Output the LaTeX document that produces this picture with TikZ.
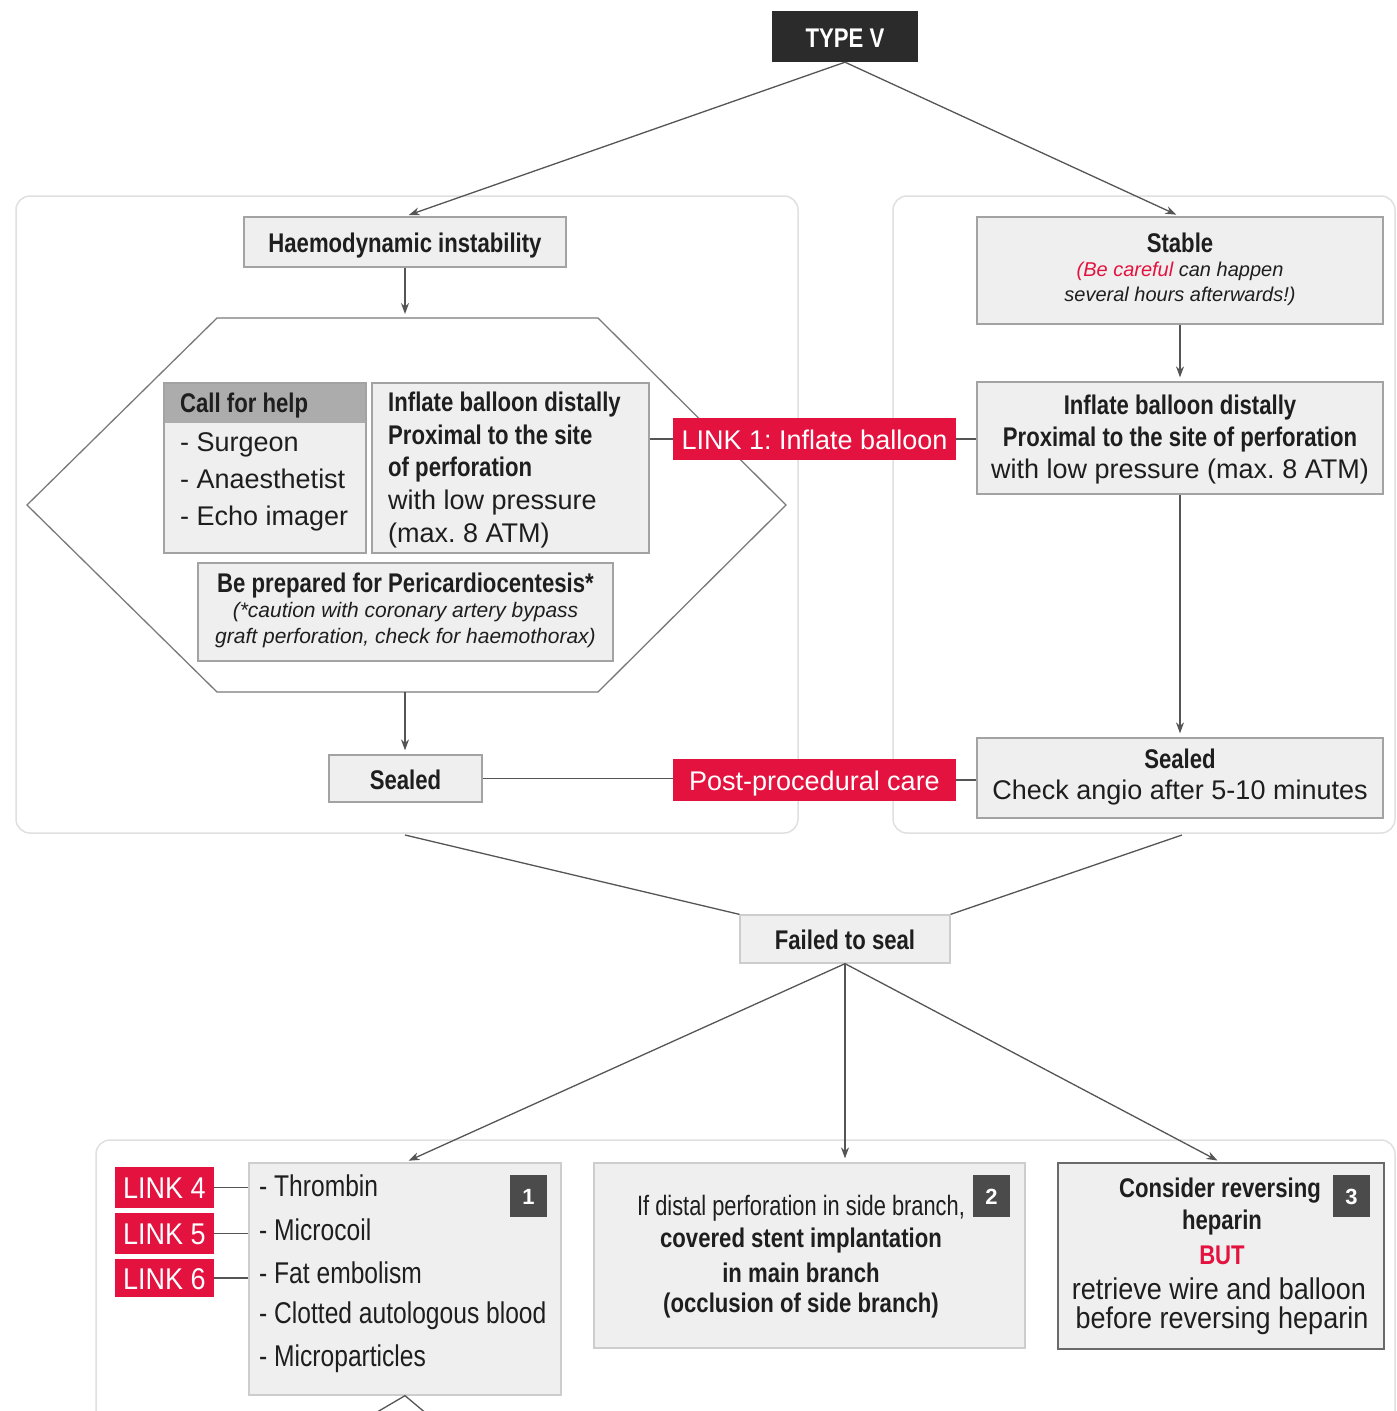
\documentclass[tikz,border=0pt]{standalone}
\usepackage{fontspec}
\setmainfont{Liberation Sans}
\newfontfamily\fB[FakeStretch=0.82]{Liberation Sans}
\newfontfamily\fC[FakeStretch=0.9]{Liberation Sans}
\newfontfamily\fD[FakeStretch=0.78]{Liberation Sans}
\usetikzlibrary{arrows.meta,calc}
\frenchspacing
\definecolor{boxfill}{HTML}{EFEFEF}
\definecolor{boxdraw}{HTML}{A3A3A3}
\definecolor{boxlite}{HTML}{CDCDCD}
\definecolor{boxdark}{HTML}{6A6A6A}
\definecolor{hdrc}{HTML}{ACACAC}
\definecolor{linkred}{HTML}{E3123F}
\definecolor{darkc}{HTML}{2B2B2B}
\definecolor{badgec}{HTML}{4B4B4B}
\definecolor{contc}{HTML}{E0E0E0}
\definecolor{connc}{HTML}{555555}
\definecolor{hexc}{HTML}{7A7A7A}
\definecolor{txtc}{HTML}{1E1E1E}
\newcommand\fsz[2]{\fontsize{#1}{#2}\selectfont}
\tikzset{
  box/.style={draw=boxdraw, fill=boxfill, line width=1.3pt, inner sep=0pt, text=txtc},
  one/.style={text height=21pt, text depth=0pt},
  redbox/.style={fill=linkred, text=white, inner sep=0pt, one},
  darkbox/.style={fill=darkc, text=white, inner sep=0pt, one},
  badge/.style={fill=badgec, text=white, inner sep=0pt, minimum width=37pt, minimum height=42pt, text height=16pt, text depth=0pt},
  conn/.style={draw=connc, line width=1.3pt},
  arr/.style={conn, -{Stealth[length=11pt,width=8pt]}, shorten >=4pt},
  cont/.style={draw=contc, line width=1.5pt, rounded corners=14pt},
  hexline/.style={draw=hexc, line width=1.3pt},
  txt/.style={inner sep=0pt, text=txtc},
  bldt/.style={font=\fB\bfseries\fsz{27}{30}},
  regt/.style={font=\fsz{27}{30}},
}
\begin{document}
\frenchspacing
\begin{tikzpicture}[x=1pt,y=-1pt]
\useasboundingbox[fill=white] (0,0) rectangle (1397,1411);
% containers
\draw[cont] (16,196) rectangle (798,833);
\draw[cont] (893,196) rectangle (1395,833);
\draw[cont] (96,1140) rectangle (1395,1450);
% hexagon
\draw[hexline] (217,318) -- (598,318) -- (786,505) -- (598,692) -- (217,692) -- (27,505) -- cycle;
\coordinate (hexT) at (405,318);
\coordinate (hexB) at (405,692);

% top
\node[darkbox, minimum width=146pt, minimum height=51pt] (typev) at (845,36.5) {\fB\bfseries\fsz{27}{30}TYPE V};

% left column
\node[box, one, minimum width=322pt, minimum height=50pt] (haemo) at (405,242) {\fB\bfseries\fsz{27}{30}Haemodynamic instability};

\node[box, minimum width=202pt, minimum height=170pt] (call) at (265,468) {};
\fill[hdrc] (164.65,383.65) rectangle (365.35,423);
\node[txt, bldt, anchor=mid west] (callt) at (180,410) {Call for help};
\node[txt, regt, anchor=mid west] (c1) at (180,449) {- Surgeon};
\node[txt, regt, anchor=mid west] (c2) at (180,486) {- Anaesthetist};
\node[txt, regt, anchor=mid west] (c3) at (180,523) {- Echo imager};

\node[box, minimum width=277pt, minimum height=170pt] (infl) at (510.5,468) {};
\node[txt, bldt, anchor=mid west] (i1) at (388,409) {Inflate balloon distally};
\node[txt, bldt, anchor=mid west] (i2) at (388,442) {Proximal to the site};
\node[txt, bldt, anchor=mid west] (i3) at (388,474) {of perforation};
\node[txt, regt, anchor=mid west] (i4) at (388,507) {with low pressure};
\node[txt, regt, anchor=mid west] (i5) at (388,540) {(max. 8 ATM)};

\node[box, minimum width=415pt, minimum height=98pt] (prep) at (405.5,612) {};
\node[txt, bldt] (p1) at (405.5,586) {Be prepared for Pericardiocentesis*};
\node[txt, font=\itshape\fsz{21}{24}] (p2) at (405.5,612) {(*caution with coronary artery bypass};
\node[txt, font=\itshape\fsz{21}{24}] (p3) at (405.5,638) {graft perforation, check for haemothorax)};

\node[box, one, minimum width=153pt, minimum height=47pt] (sealL) at (405.5,778.5) {\fB\bfseries\fsz{27}{30}Sealed};

% links
\node[redbox, minimum width=283pt, minimum height=42pt] (link1) at (814.5,439) {\fsz{27}{30}LINK 1: Inflate balloon};
\node[redbox, minimum width=283pt, minimum height=42pt] (post) at (814.5,780) {\fsz{27}{30}Post-procedural care};

% right column
\node[box, minimum width=406pt, minimum height=107pt] (stable) at (1180,270.5) {};
\node[txt, bldt] (s1) at (1180,243) {Stable};
\node[txt, font=\itshape\fsz{20}{24}] (s2) at (1180,271) {\textcolor{linkred}{(Be careful} can happen};
\node[txt, font=\itshape\fsz{20}{24}] (s3) at (1180,296) {several hours afterwards!)};

\node[box, minimum width=406pt, minimum height=112pt] (inflR) at (1180,438) {};
\node[txt, bldt] (r1) at (1180,408) {Inflate balloon distally};
\node[txt, bldt] (r2) at (1180,440) {Proximal to the site of perforation};
\node[txt, regt] (r3) at (1180,472) {with low pressure (max. 8 ATM)};

\node[box, minimum width=406pt, minimum height=80pt] (sealR) at (1180,778) {};
\node[txt, bldt] (q1) at (1180,759) {Sealed};
\node[txt, regt] (q2) at (1180,793) {Check angio after 5-10 minutes};

% failed
\node[box, one, draw=boxlite, minimum width=210pt, minimum height=48pt] (failed) at (845,939) {\fB\bfseries\fsz{27}{30}Failed to seal};
\coordinate (lc) at (405,835);
\coordinate (rc) at (1182,835);

% bottom boxes
\node[box, draw=boxlite, minimum width=312pt, minimum height=232pt] (b1) at (405,1279) {};
\node[box, draw=boxlite, minimum width=431pt, minimum height=185pt] (b2) at (809.5,1255.5) {};
\node[box, draw=boxdark, minimum width=326pt, minimum height=186pt] (b3) at (1221,1256) {};

\node[badge] (n1) at (528.5,1196) {\bfseries\fsz{22}{24}1};
\node[badge] (n2) at (991.5,1196) {\bfseries\fsz{22}{24}2};
\node[badge] (n3) at (1351.5,1196) {\bfseries\fsz{22}{24}3};

\node[txt, font=\fB\fsz{30}{33}, anchor=mid west] (m1) at (259,1194) {- Thrombin};
\node[txt, font=\fB\fsz{30}{33}, anchor=mid west] (m2) at (259,1238) {- Microcoil};
\node[txt, font=\fB\fsz{30}{33}, anchor=mid west] (m3) at (259,1281) {- Fat embolism};
\node[txt, font=\fB\fsz{30}{33}, anchor=mid west] (m4) at (259,1321) {- Clotted autologous blood};
\node[txt, font=\fB\fsz{30}{33}, anchor=mid west] (m5) at (259,1364) {- Microparticles};

\node[txt, font=\fD\fsz{28}{30}] (d1) at (801,1208) {If distal perforation in side branch,};
\node[txt, bldt] (d2) at (801,1241) {covered stent implantation};
\node[txt, bldt] (d3) at (801,1273) {in main branch};
\node[txt, bldt] (d4) at (801,1306) {(occlusion of side branch)};

\node[txt, bldt] (e1) at (1220,1191) {Consider reversing};
\node[txt, bldt] (e2) at (1222,1223) {heparin};
\node[txt, bldt, text=linkred] (e3) at (1222,1255) {BUT};
\node[txt, font=\fC\fsz{30}{33}] (e4) at (1219,1289) {retrieve wire and balloon};
\node[txt, font=\fC\fsz{30}{33}] (e5) at (1222,1321) {before reversing heparin};

\node[redbox, text height=22pt, minimum width=99pt, minimum height=41pt] (link4) at (164.5,1187.5) {\fC\fsz{30}{33}LINK 4};
\node[redbox, text height=22pt, minimum width=99pt, minimum height=41pt] (link5) at (164.5,1233.5) {\fC\fsz{30}{33}LINK 5};
\node[redbox, text height=22pt, minimum width=99pt, minimum height=38pt] (link6) at (164.5,1278) {\fC\fsz{30}{33}LINK 6};
\coordinate (bl1) at (355,1425);
\coordinate (bl2) at (440,1425);

% connectors
\draw[arr] (typev.south) -- (haemo.north);
\draw[arr] (typev.south) -- (stable.north);
\draw[arr] (haemo.south) -- (hexT);
\draw[arr] (hexB) -- (hexB |- sealL.north);
\draw[conn] (link1.west -| infl.east) -- (link1.west);
\draw[conn] (link1.east) -- (link1.east -| inflR.west);
\draw[conn] (sealL.east) -- (sealL.east -| post.west);
\draw[conn] (post.east) -- (post.east -| sealR.west);
\draw[arr] (stable.south) -- (inflR.north);
\draw[arr] (inflR.south) -- (sealR.north);
\draw[conn] (lc) -- (failed.north west);
\draw[conn] (rc) -- (failed.north east);
\draw[arr] (failed.south) -- (b1.north);
\draw[arr] (failed.south) -- (failed.south |- b2.north);
\draw[arr] (failed.south) -- (b3.north);
\draw[conn] (link4.east) -- (link4.east -| b1.west);
\draw[conn] (link5.east) -- (link5.east -| b1.west);
\draw[conn] (link6.east) -- (link6.east -| b1.west);
\draw[conn] (b1.south) -- (bl1);
\draw[conn] (b1.south) -- (bl2);
\end{tikzpicture}
\end{document}
